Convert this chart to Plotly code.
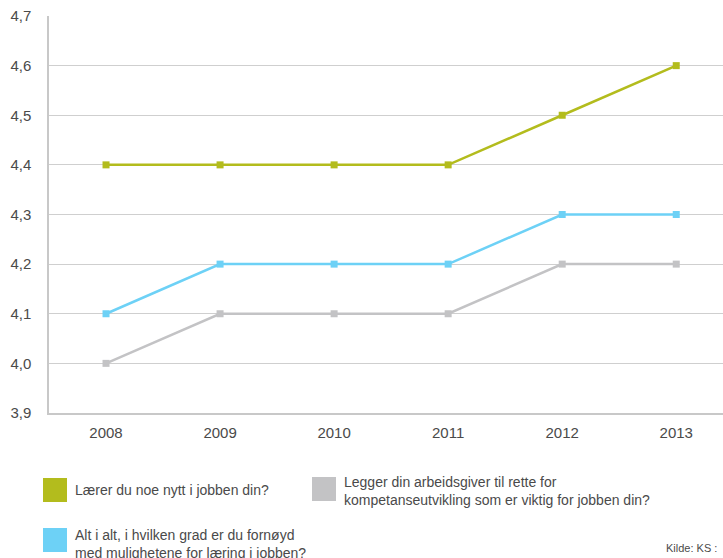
import plotly.graph_objects as go

years = ["2008", "2009", "2010", "2011", "2012", "2013"]
laerer = [4.4, 4.4, 4.4, 4.4, 4.5, 4.6]
fornoyd = [4.1, 4.2, 4.2, 4.2, 4.3, 4.3]
legger = [4.0, 4.1, 4.1, 4.1, 4.2, 4.2]
y_ticks = [3.9, 4.0, 4.1, 4.2, 4.3, 4.4, 4.5, 4.6, 4.7]

name_laerer = "Lærer du noe nytt i jobben din?"
name_fornoyd = "Alt i alt, i hvilken grad er du fornøyd<br>med mulighetene for læring i jobben?"
name_legger = "Legger din arbeidsgiver til rette for<br>kompetanseutvikling som er viktig for jobben din?"
source = "Kilde: KS :"

GREEN = "#b3bc1d"
BLUE = "#6dd1f6"
GRAY = "#c3c3c5"
TXT = "#4a4a4a"
FONT = "Liberation Sans, Arial, sans-serif"

W, H = 723, 558
L, T, R, B = 49, 16, 723, 413

def px(x):
    return (x - L) / (R - L)

def py(y):
    return (B - y) / (B - T)

fig = go.Figure()
for vals, col, nm in [(legger, GRAY, name_legger), (fornoyd, BLUE, name_fornoyd), (laerer, GREEN, name_laerer)]:
    fig.add_trace(go.Scatter(
        x=years, y=vals, mode="lines+markers", name=nm,
        line=dict(color=col, width=2.5),
        marker=dict(symbol="square", size=7, color=col),
        showlegend=False,
    ))

shapes = []
annotations = []
legend_items = [
    (43, 478, GREEN, name_laerer, 73, 490),
    (312, 477, GRAY, name_legger, 342, 491),
    (43, 528, BLUE, name_fornoyd, 73, 544),
]
for sx, sy, col, txt, tx, ty in legend_items:
    shapes.append(dict(type="rect", xref="paper", yref="paper",
                       x0=px(sx), x1=px(sx + 24), y0=py(sy + 24), y1=py(sy),
                       fillcolor=col, line=dict(width=0)))
    annotations.append(dict(xref="paper", yref="paper", x=px(tx), y=py(ty),
                            xanchor="left", yanchor="middle", align="left",
                            text=txt, showarrow=False,
                            font=dict(family=FONT, size=14, color=TXT)))
annotations.append(dict(xref="paper", yref="paper", x=px(664), y=py(548),
                        xanchor="left", yanchor="middle", text=source, showarrow=False,
                        font=dict(family=FONT, size=11, color=TXT)))

fig.update_layout(
    width=W, height=H,
    margin=dict(l=L, r=W - R, t=T, b=H - B),
    paper_bgcolor="white", plot_bgcolor="white",
    separators=", ",
    font=dict(family=FONT, size=15, color=TXT),
    shapes=shapes, annotations=annotations,
    xaxis=dict(type="category", range=[-0.5, 5.41], showgrid=False,
               showline=True, linecolor="#c8c8c8", linewidth=1.5,
               ticks="outside", ticklen=5, tickcolor="white",
               tickfont=dict(family=FONT, size=15, color=TXT), fixedrange=True),
    yaxis=dict(range=[3.9, 4.7], tickvals=y_ticks, tickformat=".1f",
               showgrid=True, gridcolor="#cfcfcf", gridwidth=1,
               showline=True, linecolor="#c8c8c8", linewidth=1.5,
               zeroline=False,
               ticks="outside", ticklen=13, tickcolor="white",
               tickfont=dict(family=FONT, size=15, color=TXT), fixedrange=True),
)

fig.write_html("out.html")
